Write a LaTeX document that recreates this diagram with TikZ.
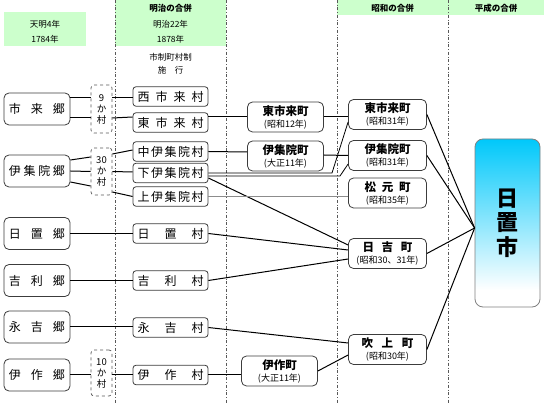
\documentclass[tikz,border=0pt]{standalone}
\usepackage{fontspec}
\setmainfont{Noto Sans CJK JP}
\definecolor{hdrgreen}{RGB}{204,255,204}
\definecolor{skyc}{RGB}{0,200,250}
\definecolor{boxline}{RGB}{60,60,60}
\pgfdeclareverticalshading{hiokishade}{100bp}{color(0bp)=(white); color(30bp)=(white); color(75bp)=(skyc); color(100bp)=(skyc)}
\newcommand\sprd[2]{\makebox[#1][s]{#2}}
\tikzset{
 gou/.style={draw=boxline, line width=0.8pt, rounded corners=5pt, fill=white, minimum width=66pt, minimum height=32pt, inner sep=0pt, font=\fontsize{12}{12}\selectfont},
 mura/.style={draw=boxline, line width=0.8pt, rounded corners=3pt, fill=white, minimum width=75pt, minimum height=19.5pt, inner sep=0pt, font=\fontsize{12}{12}\selectfont},
 kabox/.style={draw=boxline!85, dashed, line width=0.7pt, rounded corners=3pt, fill=white, minimum width=21pt, inner sep=0pt, align=center, font=\fontsize{9.5}{11}\selectfont},
 machi/.style={draw=boxline, line width=0.8pt, rounded corners=5pt, fill=white, minimum width=76pt, minimum height=30pt, inner sep=0pt, align=center, font=\fontsize{11.5}{12}\selectfont\bfseries},
 city/.style={draw=gray, line width=0.8pt, rounded corners=8pt, shading=hiokishade, minimum width=65pt, minimum height=168pt, inner sep=0pt, align=center, font=\fontsize{22}{24.5}\selectfont\bfseries},
 conn/.style={line width=1pt, black},
 grayconn/.style={line width=1pt, gray!90},
 divider/.style={dash dot, line width=0.6pt, gray!70!black},
 hdr/.style={inner sep=0pt, font=\fontsize{8.5}{10}\selectfont},
 hdrb/.style={inner sep=0pt, font=\fontsize{8.5}{10}\selectfont\bfseries},
}
\newcommand\yr[1]{{\mdseries\fontsize{9}{10}\selectfont #1}}
\begin{document}
\begin{tikzpicture}[x=1pt,y=-1pt]
\useasboundingbox (0,0) rectangle (544,403);
% header backgrounds
\fill[hdrgreen] (4,12) rectangle (86,46);
\fill[hdrgreen] (115,0) rectangle (226,46);
\fill[hdrgreen] (337,0) rectangle (448,15);
\fill[hdrgreen] (448,0) rectangle (544,15);
% dividers
\draw[divider] (115,0) -- (115,403);
\draw[divider] (226,0) -- (226,403);
\draw[divider] (337,0) -- (337,403);
\draw[divider] (448,0) -- (448,403);
% header texts
\node[hdr] (h1a) at (45,24) {天明4年};
\node[hdr] (h1b) at (45,39) {1784年};
\node[hdrb] (h2a) at (170.5,8) {明治の合併};
\node[hdr] (h2b) at (170.5,24) {明治22年};
\node[hdr] (h2c) at (170.5,39) {1878年};
\node[hdr] (h2d) at (170.5,57) {市制町村制};
\node[hdr] (h2e) at (170.5,70) {施　行};
\node[hdrb] (h3) at (392.5,8) {昭和の合併};
\node[hdrb] (h4) at (496,8) {平成の合併};
% gou
\node[gou] (g1) at (37,109) {\sprd{56pt}{市\hfill 来\hfill 郷}};
\node[gou] (g2) at (37,171) {\sprd{56pt}{伊\hfill 集\hfill 院\hfill 郷}};
\node[gou] (g3) at (37,233.5) {\sprd{56pt}{日\hfill 置\hfill 郷}};
\node[gou] (g4) at (37,280.5) {\sprd{56pt}{吉\hfill 利\hfill 郷}};
\node[gou] (g5) at (37,327) {\sprd{56pt}{永\hfill 吉\hfill 郷}};
\node[gou] (g6) at (37,375) {\sprd{56pt}{伊\hfill 作\hfill 郷}};
% ka-mura boxes
\node[kabox, minimum height=48pt] (k1) at (101.5,109) {9\\か\\村};
\node[kabox, minimum height=47pt] (k2) at (101.5,171.5) {30\\か\\村};
\node[kabox, minimum height=46pt] (k3) at (101.5,373) {10\\か\\村};
% mura
\node[mura] (m1) at (170.5,96.5) {\sprd{66pt}{西\hfill 市\hfill 来\hfill 村}};
\node[mura] (m2) at (170.5,122.5) {\sprd{66pt}{東\hfill 市\hfill 来\hfill 村}};
\node[mura] (m3) at (170.5,151.5) {\sprd{66pt}{中\hfill 伊\hfill 集\hfill 院\hfill 村}};
\node[mura] (m4) at (170.5,173) {\sprd{66pt}{下\hfill 伊\hfill 集\hfill 院\hfill 村}};
\node[mura] (m5) at (170.5,196.5) {\sprd{66pt}{上\hfill 伊\hfill 集\hfill 院\hfill 村}};
\node[mura] (m6) at (170.5,233.5) {\sprd{66pt}{日\hfill 置\hfill 村}};
\node[mura] (m7) at (170.5,280.5) {\sprd{66pt}{吉\hfill 利\hfill 村}};
\node[mura] (m8) at (170.5,327.5) {\sprd{66pt}{永\hfill 吉\hfill 村}};
\node[mura] (m9) at (170.5,375) {\sprd{66pt}{伊\hfill 作\hfill 村}};
% taisho/showa-early towns
\node[machi] (t1) at (285.5,117) {東市来町\\\yr{(昭和12年)}};
\node[machi] (t2) at (285.5,156) {伊集院町\\\yr{(大正11年)}};
\node[machi] (t3) at (279.5,371) {伊作町\\\yr{(大正11年)}};
% showa towns
\node[machi, minimum width=78pt] (s1) at (387.5,114.5) {東市来町\\\yr{(昭和31年)}};
\node[machi, minimum width=78pt] (s2) at (387.5,155.5) {伊集院町\\\yr{(昭和31年)}};
\node[machi, minimum width=78pt] (s3) at (387.5,193) {\sprd{46pt}{松\hfill 元\hfill 町}\\\yr{(昭和35年)}};
\node[machi, minimum width=78pt] (s4) at (387.5,253.5) {\sprd{50pt}{日\hfill 吉\hfill 町}\\\yr{(昭和30、31年)}};
\node[machi, minimum width=78pt] (s5) at (387.5,349.5) {\sprd{52pt}{吹\hfill 上\hfill 町}\\\yr{(昭和30年)}};
% city
\node[city] (city) at (507.5,223) {日\\置\\市};
\coordinate (hub) at ([yshift=-5pt]city.west);
\coordinate (d1) at (332,173);
\coordinate (d2) at (340,176);
% connectors: gou -> ka/mura
\draw[conn] ([yshift=11pt]g1.east) -- ([yshift=11pt]k1.west);
\draw[conn] ([yshift=-9pt]g1.east) -- ([yshift=-9pt]k1.west);
\draw[conn] ([yshift=11pt]k1.east) -- ([yshift=-1.5pt]m1.west);
\draw[conn] ([yshift=-9pt]k1.east) -- ([yshift=5.5pt]m2.west);
\draw[conn] ([yshift=11pt]g2.east) -- ([yshift=14.5pt]k2.west);
\draw[conn] (g2.east) -- (k2.west);
\draw[conn] ([yshift=-11pt]g2.east) -- ([yshift=-14.5pt]k2.west);
\draw[conn] ([yshift=17.5pt]k2.east) -- ([yshift=1.5pt]m3.west);
\draw[conn] (k2.east) -- ([yshift=1pt]m4.west);
\draw[conn] ([yshift=-20.5pt]k2.east) -- (m5.west);
\draw[conn] (g3.east) -- (m6.west);
\draw[conn] (g4.east) -- (m7.west);
\draw[conn] (g5.east) -- (m8.west |- g5.east);
\draw[conn] (g6.east) -- (k3.west |- g6.east);
\draw[conn] (k3.east |- m9.west) -- (m9.west);
% mura -> towns
\draw[conn] ([yshift=5.5pt]m2.east) -- (t1.west);
\draw[conn] (t1.east) -- ([yshift=-2.5pt]s1.west);
\draw[conn] (m3.east) -- ([yshift=4pt]t2.west);
\draw[conn] ([yshift=1pt]t2.east) -- (s2.west);
\draw[line width=0.8pt] (m4.east) -- (d1) -- ([yshift=-7.5pt]s1.west);
\draw[line width=0.8pt] ([yshift=-3pt]m4.east) -- (d2) -- ([yshift=-8.5pt]s2.west);
\draw[conn] ([yshift=-5pt]m4.east) -- ([yshift=8.5pt]s4.west);
\draw[grayconn] (m5.east) -- (s3.west |- m5.east);
\draw[conn] (m6.east) -- ([yshift=3.5pt]s4.west);
\draw[conn] (m7.east) -- ([yshift=-5.5pt]s4.west);
\draw[conn] (m8.east) -- ([yshift=6.5pt]s5.west);
\draw[conn] (m9.east) -- (t3.west |- m9.east);
\draw[conn] (t3.east) -- ([yshift=-5.5pt]s5.west);
% towns -> city
\draw[conn] (s1.east) -- (hub);
\draw[conn] (s2.east) -- (hub);
\draw[conn] (s4.east) -- (hub);
\draw[conn] (s5.east) -- (hub);
\end{tikzpicture}
\end{document}
